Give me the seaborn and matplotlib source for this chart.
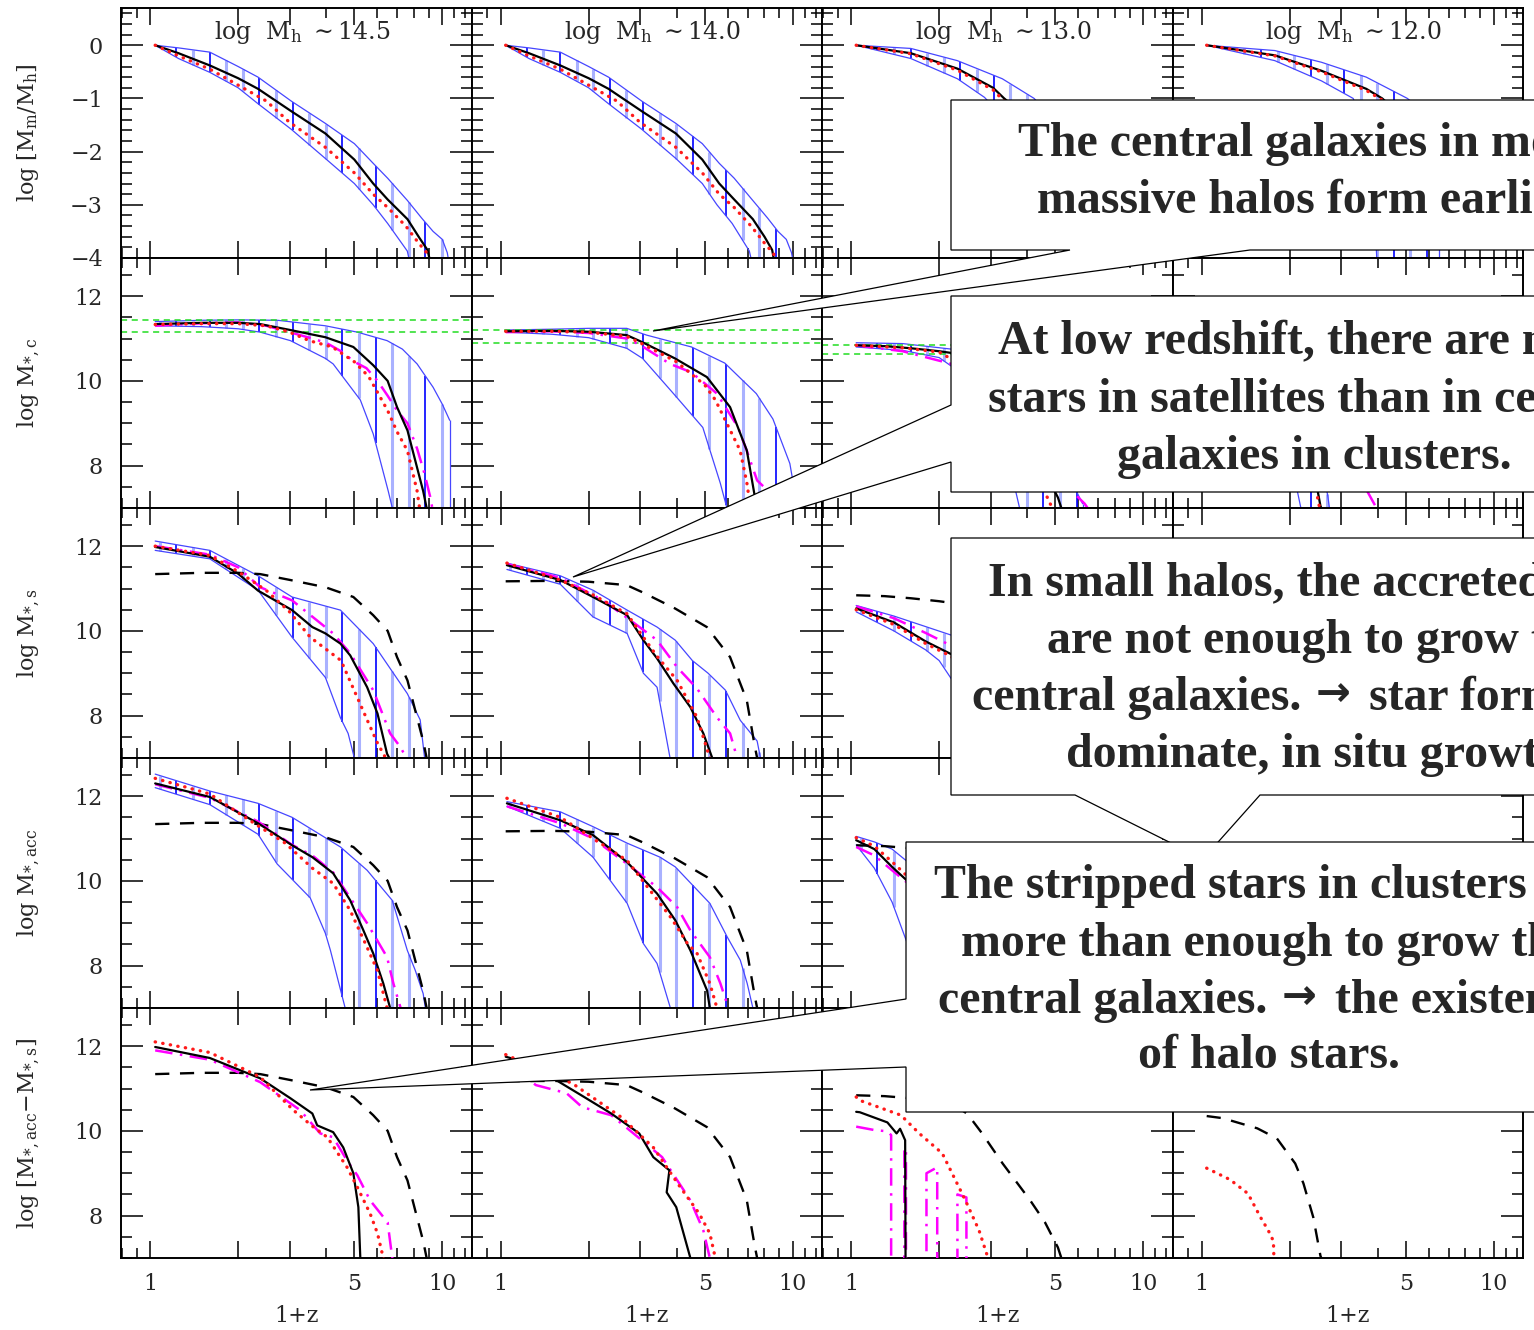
import matplotlib

matplotlib.use("Agg")
import matplotlib.pyplot as plt
import matplotlib.transforms as mtransforms
import numpy as np
import seaborn as sns
from matplotlib.patches import Polygon
from matplotlib.ticker import FixedFormatter, FixedLocator, MultipleLocator, NullFormatter

# * --- Panel labels ---
halo_masses = ["14.5", "14.0", "13.0", "12.0"]
row_ylabels = [
    r"log [M$_{\rm m}$/M$_{\rm h}$]",
    r"log M$_{*,\rm c}$",
    r"log M$_{*,\rm s}$",
    r"log M$_{*,\rm acc}$",
    r"log [M$_{*,\rm acc}$$-$M$_{*,\rm s}$]",
]

# x is always 1+z ; one (x, y) pair per halo-mass column

# * --- Row 0: log [Mm/Mh] ---
mm_median = [
    ([1.04, 1.25, 1.6, 2.0, 2.34, 3.04, 3.98, 5.0, 5.8, 6.5, 7.6, 8.3, 8.9, 9.3],
     [0, -0.15, -0.38, -0.62, -0.82, -1.24, -1.66, -2.15, -2.6, -2.9, -3.27, -3.6, -3.85, -4.3]),
    ([1.04, 1.25, 1.6, 2.0, 2.34, 3.04, 3.98, 4.9, 5.6, 6.3, 7.3, 8.0, 8.5, 8.8],
     [0, -0.15, -0.38, -0.62, -0.82, -1.24, -1.66, -2.15, -2.6, -2.9, -3.27, -3.6, -3.85, -4.3]),
    ([1.04, 1.6, 2.31, 3.06, 3.34, 4.5, 6.0, 7.5, 8.5],
     [0, -0.15, -0.44, -0.8, -1.0, -1.6, -2.5, -3.4, -4.3]),
    ([1.04, 1.78, 2.57, 3.66, 4.15, 5.0, 6.0, 6.5],
     [0, -0.19, -0.48, -0.82, -1.0, -1.4, -1.9, -2.2]),
]
mm_dotted = [
    ([1.04, 1.25, 1.6, 2.0, 2.5, 3.0, 3.98, 5.0, 5.8, 6.5, 7.5, 8.3, 8.9, 9.2],
     [0, -0.2, -0.45, -0.75, -1.05, -1.45, -1.92, -2.4, -2.8, -3.05, -3.4, -3.72, -3.92, -4.3]),
    ([1.04, 1.25, 1.6, 2.0, 2.5, 3.0, 3.98, 4.9, 5.6, 6.3, 7.2, 8.0, 8.6, 8.9],
     [0, -0.2, -0.45, -0.75, -1.05, -1.45, -1.92, -2.4, -2.8, -3.05, -3.4, -3.72, -3.92, -4.3]),
    ([1.04, 1.6, 2.31, 3.06, 3.34, 4.5, 6.0, 7.5, 8.5],
     [0, -0.16, -0.47, -0.84, -1.05, -1.7, -2.6, -3.5, -4.3]),
    ([1.04, 1.78, 2.57, 3.66, 4.15, 5.0, 6.0, 6.5],
     [0, -0.2, -0.5, -0.85, -1.03, -1.45, -1.95, -2.25]),
]
mm_upper = [
    ([1.04, 1.25, 1.6, 2.0, 2.34, 3.04, 3.98, 5.0, 5.8, 6.5, 7.6, 8.5, 9.3, 10.0, 10.4, 10.7],
     [0, -0.05, -0.13, -0.4, -0.6, -1.05, -1.47, -1.85, -2.22, -2.5, -2.92, -3.25, -3.5, -3.65, -3.9, -4.3]),
    ([1.04, 1.25, 1.6, 2.0, 2.34, 3.04, 3.98, 4.9, 5.6, 6.3, 7.3, 8.2, 8.9, 9.5, 9.9, 10.2],
     [0, -0.05, -0.13, -0.4, -0.6, -1.05, -1.47, -1.85, -2.22, -2.5, -2.92, -3.25, -3.5, -3.65, -3.9, -4.3]),
    ([1.04, 1.6, 2.31, 3.29, 4.23, 5.5, 7.0, 8.5, 9.5],
     [0, -0.06, -0.29, -0.63, -1.0, -1.7, -2.5, -3.4, -4.3]),
    ([1.04, 1.78, 2.57, 3.66, 5.06, 6.5],
     [0, -0.1, -0.32, -0.6, -1.0, -1.5]),
]
mm_lower = [
    ([1.04, 1.25, 1.6, 2.0, 2.34, 3.04, 3.98, 5.0, 5.8, 6.5, 7.59, 7.9],
     [0, -0.25, -0.51, -0.8, -1.1, -1.58, -2.13, -2.6, -3.0, -3.35, -3.87, -4.3]),
    ([1.04, 1.25, 1.6, 2.0, 2.34, 3.04, 3.98, 4.9, 5.5, 6.2, 7.1, 7.4],
     [0, -0.25, -0.51, -0.8, -1.1, -1.58, -2.13, -2.6, -3.0, -3.35, -3.87, -4.3]),
    ([1.04, 1.6, 2.31, 2.86, 3.5, 4.5, 5.5, 6.5],
     [0, -0.25, -0.63, -0.98, -1.5, -2.3, -3.2, -4.3]),
    ([1.04, 1.78, 2.57, 3.3, 3.8, 4.0],
     [0, -0.29, -0.67, -1.0, -1.8, -4.3]),
]

# * --- Row 1: log M*,c ---
mc_median = [
    ([1.04, 1.5, 2.0, 2.38, 3.02, 3.98, 4.96, 5.8, 6.5, 7.0, 7.6, 8.2, 8.6, 8.9],
     [11.34, 11.37, 11.37, 11.34, 11.2, 11.03, 10.8, 10.37, 10.0, 9.38, 8.83, 7.95, 7.4, 6.9]),
    ([1.04, 1.5, 2.0, 2.7, 3.06, 3.95, 5.08, 6.1, 6.96, 7.4, 7.6],
     [11.17, 11.18, 11.16, 11.08, 10.91, 10.53, 10.09, 9.38, 8.36, 7.3, 6.9]),
    ([1.04, 1.3, 1.6, 2.0, 2.2, 2.5, 2.8, 3.3, 4.1, 4.6, 5.1, 5.3],
     [10.84, 10.82, 10.77, 10.7, 10.66, 10.4, 9.95, 9.23, 8.36, 7.85, 7.25, 6.9]),
    ([1.04, 1.18, 1.55, 1.81, 2.09, 2.23, 2.41, 2.55, 2.6],
     [10.35, 10.3, 10.06, 9.82, 9.23, 8.76, 7.96, 7.05, 6.9]),
]
mc_dashdot = [
    ([1.04, 1.5, 2.0, 2.5, 3.0, 3.5, 4.0, 4.5, 5.0, 5.5, 6.0, 6.5, 7.0, 7.6, 8.2, 8.7, 9.1, 9.3],
     [11.3, 11.36, 11.38, 11.3, 11.15, 11.02, 10.9, 10.7, 10.45, 10.3, 10.0, 9.65, 9.3, 9.0, 8.4, 7.8, 7.25, 6.9]),
    ([1.04, 1.5, 2.0, 2.7, 3.0, 3.8, 4.5, 5.5, 6.5, 7.0, 7.55, 8.1, 8.4],
     [11.15, 11.17, 11.13, 11.0, 10.85, 10.4, 10.2, 9.7, 8.9, 8.3, 7.65, 7.45, 6.9]),
    ([1.04, 1.5, 2.18, 2.8, 3.5, 4.5, 5.5, 6.3, 6.6],
     [10.84, 10.7, 10.41, 9.8, 9.0, 8.2, 7.5, 7.1, 6.9]),
    ([1.04, 1.5, 2.0, 2.6, 3.3, 3.93, 4.0],
     [10.3, 10.0, 9.6, 9.0, 8.0, 7.05, 6.9]),
]
mc_dotted = [
    ([1.04, 1.5, 2.0, 2.5, 3.0, 3.5, 4.2, 5.0, 5.6, 6.5, 7.0, 7.6, 8.2, 8.4],
     [11.33, 11.35, 11.35, 11.3, 11.15, 10.95, 10.8, 10.45, 10.1, 9.3, 8.8, 8.35, 7.4, 6.9]),
    ([1.04, 1.5, 2.0, 2.7, 3.0, 4.0, 5.0, 5.43, 6.6, 6.96, 7.2],
     [11.17, 11.17, 11.15, 11.05, 10.9, 10.45, 9.9, 9.55, 8.36, 7.6, 6.9]),
    ([1.04, 1.5, 2.0, 2.5, 3.0, 4.0, 4.8, 5.0],
     [10.84, 10.78, 10.68, 10.3, 9.7, 8.3, 7.1, 6.9]),
    ([1.04, 1.5, 2.0, 2.3, 2.5, 2.55],
     [10.33, 10.05, 9.5, 8.6, 7.2, 6.9]),
]
mc_upper = [
    ([1.04, 1.5, 2.0, 2.73, 3.98, 5.12, 6.47, 7.3, 8.2, 9.3, 10.0, 10.6],
     [11.4, 11.43, 11.44, 11.43, 11.3, 11.15, 10.95, 10.75, 10.4, 9.85, 9.45, 9.07]),
    ([1.04, 1.5, 2.0, 2.7, 3.16, 4.5, 5.85, 7.5, 8.55, 9.77, 10.0],
     [11.2, 11.22, 11.24, 11.24, 11.08, 10.8, 10.42, 9.7, 9.1, 8.05, 7.65]),
    ([1.04, 1.5, 2.2, 3.0, 4.0, 5.0, 5.8, 6.2],
     [10.9, 10.88, 10.75, 10.3, 9.5, 8.5, 7.5, 7.1]),
    ([1.04, 1.5, 2.0, 2.4, 2.7, 2.75],
     [10.45, 10.25, 9.9, 9.0, 7.3, 6.9]),
]
mc_lower = [
    ([1.04, 1.5, 2.0, 2.38, 3.02, 3.98, 4.23, 5.24, 5.8, 6.53, 6.8],
     [11.3, 11.28, 11.23, 11.15, 10.95, 10.53, 10.4, 9.55, 8.75, 7.4, 6.9]),
    ([1.04, 1.5, 2.0, 2.7, 3.06, 3.95, 4.92, 5.65, 6.0],
     [11.15, 11.1, 11.02, 10.77, 10.53, 9.66, 8.9, 7.58, 6.9]),
    ([1.04, 1.5, 2.0, 2.6, 3.2, 3.6, 3.8],
     [10.8, 10.72, 10.55, 10.0, 8.8, 7.6, 6.9]),
    ([1.04, 1.5, 1.9, 2.17, 2.2],
     [10.25, 9.85, 9.0, 7.1, 6.9]),
]
mc_green = [(11.43, 11.15), (11.2, 10.89), (10.84, 10.63), (10.45, 10.2)]

# * --- Row 2: log M*,s ---
ms_median = [
    ([1.04, 1.6, 2.0, 2.34, 3.06, 3.59, 3.98, 4.48, 4.84, 5.53, 6.0, 6.47, 6.7],
     [11.98, 11.75, 11.35, 10.95, 10.49, 10.09, 9.94, 9.7, 9.42, 8.67, 8.05, 7.1, 6.9]),
    ([1.05, 1.6, 2.07, 2.71, 3.08, 3.43, 3.9, 4.46, 4.94, 5.3, 5.4],
     [11.55, 11.2, 10.8, 10.37, 9.78, 9.35, 8.76, 8.2, 7.58, 7.0, 6.9]),
    ([1.04, 1.4, 1.8, 2.2, 2.6, 3.0, 3.4, 3.6],
     [10.53, 10.2, 9.75, 9.45, 8.9, 8.2, 7.2, 6.9]),
    ([1.04, 1.5, 2.0, 2.4, 2.6],
     [10.2, 9.8, 9.0, 7.5, 6.9]),
]
ms_dashdot = [
    ([1.04, 1.6, 2.0, 2.38, 3.06, 4.23, 4.84, 5.8, 6.63, 7.2, 7.6],
     [12.0, 11.8, 11.5, 11.03, 10.72, 9.94, 9.47, 8.6, 7.58, 7.25, 6.95]),
    ([1.05, 1.6, 2.24, 2.78, 3.43, 4.02, 4.7, 5.5, 6.1, 6.45, 6.6],
     [11.58, 11.25, 10.72, 10.25, 9.78, 9.14, 8.64, 7.96, 7.58, 7.0, 6.9]),
    ([1.04, 1.4, 1.8, 2.2, 2.7, 3.2, 3.8, 4.0],
     [10.58, 10.3, 9.95, 9.65, 9.1, 8.4, 7.2, 6.9]),
    ([1.04, 1.5, 2.0, 2.4, 2.6],
     [10.25, 9.9, 9.2, 7.8, 6.9]),
]
ms_dotted = [
    ([1.04, 1.6, 2.0, 2.5, 3.0, 3.53, 4.5, 5.53, 6.0, 6.4, 6.6],
     [12.0, 11.78, 11.4, 10.95, 10.45, 9.85, 9.3, 7.9, 7.35, 7.0, 6.9]),
    ([1.05, 1.6, 2.07, 2.71, 3.08, 3.43, 4.02, 4.7, 5.2, 5.3],
     [11.6, 11.2, 10.85, 10.4, 9.85, 9.4, 8.83, 7.96, 7.0, 6.9]),
    ([1.04, 1.4, 1.8, 2.2, 2.6, 3.0, 3.4, 3.6],
     [10.5, 10.15, 9.7, 9.4, 8.85, 8.1, 7.1, 6.9]),
    ([1.04, 1.5, 2.0, 2.4, 2.6],
     [10.15, 9.75, 8.9, 7.4, 6.9]),
]
ms_upper = [
    ([1.04, 1.6, 2.34, 3.06, 4.48, 5.8, 7.59, 8.4, 8.7, 8.8],
     [12.12, 11.9, 11.3, 10.8, 10.49, 9.7, 8.52, 7.9, 7.0, 6.9]),
    ([1.05, 1.6, 2.07, 2.71, 3.43, 3.96, 4.53, 5.13, 5.88, 6.61, 7.55, 7.75, 7.8],
     [11.6, 11.3, 10.96, 10.49, 10.09, 9.78, 9.3, 9.0, 8.6, 7.89, 7.4, 7.0, 6.9]),
    ([1.04, 1.4, 1.8, 2.2, 2.8, 3.4, 4.0, 4.2],
     [10.6, 10.35, 10.1, 9.9, 9.3, 8.5, 7.3, 6.9]),
    ([1.04, 1.5, 2.0, 2.5, 2.8],
     [10.35, 10.0, 9.4, 8.0, 6.9]),
]
ms_lower = [
    ([1.04, 1.6, 2.34, 3.06, 3.98, 4.48, 4.76, 5.0, 5.1],
     [11.9, 11.7, 10.96, 9.85, 8.9, 7.95, 7.58, 7.0, 6.9]),
    ([1.05, 1.6, 2.07, 2.71, 3.08, 3.43, 3.8, 3.9],
     [11.45, 11.1, 10.33, 9.94, 9.0, 8.67, 7.0, 6.9]),
    ([1.04, 1.4, 1.8, 2.0, 2.5, 2.9, 3.0],
     [10.45, 10.0, 9.55, 9.3, 8.3, 7.1, 6.9]),
    ([1.04, 1.5, 1.9, 2.1],
     [10.05, 9.55, 8.2, 6.9]),
]

# * --- Row 3: log M*,acc ---
macc_median = [
    ([1.04, 1.6, 2.34, 3.06, 3.59, 4.23, 4.84, 5.37, 5.8, 6.28, 6.63, 6.8],
     [12.3, 11.98, 11.36, 10.84, 10.56, 10.18, 9.54, 8.83, 8.29, 7.58, 7.0, 6.9]),
    ([1.05, 1.6, 2.07, 2.71, 3.43, 3.96, 4.46, 5.09, 5.2, 5.25],
     [11.83, 11.43, 11.08, 10.44, 9.7, 9.07, 8.36, 7.41, 7.0, 6.9]),
    ([1.04, 1.2, 1.38, 1.8, 2.3, 2.8, 3.1],
     [10.96, 10.75, 10.33, 9.6, 8.6, 7.3, 6.9]),
    ([1.04, 1.5, 2.0, 2.4, 2.6],
     [10.3, 9.9, 9.1, 7.6, 6.9]),
]
macc_dashdot = [
    ([1.04, 1.6, 2.34, 3.06, 3.59, 4.23, 4.84, 5.53, 6.47, 6.8, 7.2, 7.3],
     [12.28, 11.96, 11.4, 10.85, 10.6, 10.2, 9.6, 9.0, 8.2, 7.58, 7.0, 6.9]),
    ([1.05, 1.6, 2.07, 2.71, 3.43, 4.02, 4.46, 5.2, 5.65, 6.02, 6.1],
     [11.76, 11.36, 11.0, 10.4, 9.85, 9.38, 8.83, 8.2, 7.58, 7.0, 6.9]),
    ([1.04, 1.2, 1.38, 1.8, 2.3, 2.9, 3.3],
     [10.8, 10.6, 10.25, 9.6, 8.8, 7.5, 6.9]),
    ([1.04, 1.5, 2.0, 2.5, 2.7],
     [10.25, 9.9, 9.2, 7.8, 6.9]),
]
macc_dotted = [
    ([1.04, 1.6, 2.34, 2.9, 3.59, 4.23, 4.84, 5.53, 6.0, 6.47, 6.6],
     [12.42, 12.05, 11.3, 10.89, 10.3, 9.94, 9.3, 8.43, 7.88, 7.0, 6.9]),
    ([1.05, 1.6, 2.71, 3.82, 4.36, 4.7, 5.2, 5.5, 5.6],
     [11.95, 11.5, 10.48, 9.14, 8.52, 8.29, 7.58, 7.0, 6.9]),
    ([1.04, 1.2, 1.38, 1.8, 2.3, 2.8, 3.0],
     [11.02, 10.82, 10.45, 9.7, 8.6, 7.3, 6.9]),
    ([1.04, 1.5, 2.0, 2.4, 2.6],
     [10.35, 9.95, 9.1, 7.5, 6.9]),
]
macc_upper = [
    ([1.04, 1.6, 2.34, 3.06, 4.48, 5.53, 6.74, 7.59, 8.08, 8.6, 8.75, 8.8],
     [12.52, 12.12, 11.83, 11.5, 10.8, 10.25, 9.54, 8.36, 7.89, 7.34, 7.0, 6.9]),
    ([1.05, 1.6, 2.07, 2.71, 3.51, 3.96, 5.2, 5.97, 6.61, 6.98, 7.3, 7.35],
     [11.87, 11.63, 11.28, 10.89, 10.56, 10.33, 9.47, 8.67, 8.13, 7.58, 7.0, 6.9]),
    ([1.04, 1.2, 1.38, 1.8, 2.4, 3.0, 3.4],
     [11.05, 10.92, 10.75, 10.1, 9.2, 7.8, 6.9]),
    ([1.04, 1.5, 2.0, 2.5, 2.8],
     [10.45, 10.05, 9.4, 8.0, 6.9]),
]
macc_lower = [
    ([1.04, 1.6, 2.34, 2.72, 3.53, 3.98, 4.14, 4.65, 4.75],
     [12.2, 11.8, 11.1, 10.4, 9.6, 8.76, 8.36, 7.0, 6.9]),
    ([1.05, 1.6, 2.07, 2.71, 3.08, 3.43, 3.81, 3.9],
     [11.76, 11.24, 10.56, 9.47, 8.52, 8.05, 7.0, 6.9]),
    ([1.04, 1.2, 1.38, 1.6, 1.8],
     [10.85, 10.3, 9.5, 8.3, 6.9]),
    ([1.04, 1.5, 1.9, 2.1],
     [10.15, 9.6, 8.2, 6.9]),
]

# * --- Row 4: log [M*,acc - M*,s] (no scatter band) ---
mdiff_median = [
    ([1.04, 1.6, 2.38, 3.02, 3.59, 3.73, 4.23, 4.58, 4.96, 5.16, 5.24, 5.26],
     [11.98, 11.72, 11.24, 10.77, 10.41, 10.13, 9.97, 9.61, 9.0, 8.2, 7.0, 6.9]),
    ([1.04, 1.25, 1.59, 1.93, 2.39, 2.98, 3.33, 3.78, 3.7, 3.99, 4.46, 4.5],
     [11.75, 11.6, 11.15, 10.8, 10.41, 9.94, 9.38, 9.07, 8.55, 8.2, 7.0, 6.9]),
    ([1.04, 1.07, 1.33, 1.43, 1.47, 1.53, 1.535],
     [10.45, 10.44, 10.2, 9.94, 10.05, 9.78, 6.8]),
    ([], []),
]
mdiff_dashdot = [
    ([1.04, 1.6, 2.38, 3.26, 3.82, 4.23, 4.72, 5.12, 5.66, 6.5, 6.74, 6.8],
     [11.9, 11.68, 11.15, 10.49, 9.94, 9.85, 9.3, 8.95, 8.36, 7.84, 7.0, 6.9]),
    ([1.04, 1.32, 1.68, 1.9, 2.39, 2.78, 3.57, 4.46, 4.94, 5.2, 5.25],
     [11.6, 11.08, 10.89, 10.56, 10.37, 10.0, 9.38, 8.36, 7.65, 7.0, 6.9]),
    ([1.04, 1.2, 1.33, 1.37, 1.37, 1.52, 1.52, 1.54, 1.54, 1.81, 1.81, 1.97, 1.97, 2.31, 2.31, 2.48, 2.48],
     [10.1, 10.02, 9.99, 9.9, 6.8, 6.8, 9.6, 9.55, 6.8, 6.8, 9.0, 9.14, 6.8, 6.8, 8.5, 8.43, 6.8]),
    ([], []),
]
mdiff_dotted = [
    ([1.04, 1.6, 2.38, 3.09, 3.62, 4.04, 4.72, 5.12, 5.66, 6.0, 6.28, 6.35],
     [12.1, 11.85, 11.27, 10.49, 10.09, 9.85, 9.14, 8.67, 8.05, 7.58, 7.0, 6.9]),
    ([1.04, 1.3, 1.76, 2.59, 3.33, 4.12, 4.78, 5.2, 5.43, 5.5],
     [11.8, 11.5, 11.12, 10.32, 9.61, 8.67, 8.05, 7.58, 7.0, 6.9]),
    ([1.04, 1.07, 1.48, 1.71, 2.05, 2.46, 2.74, 2.94, 3.0],
     [10.8, 10.72, 10.37, 9.94, 9.47, 8.36, 7.65, 7.0, 6.9]),
    ([1.04, 1.25, 1.44, 1.59, 1.69, 1.76, 1.77],
     [9.12, 8.85, 8.52, 7.96, 7.65, 7.4, 6.8]),
]

# * --- Callout texts ---
callout_lines = [
    ["The central galaxies in more", "massive halos form earlier."],
    ["At low redshift, there are more", "stars in satellites than in central", "galaxies in clusters."],
    ["In small halos, the accreted stars", "are not enough to grow the",
     "central galaxies. \u2192 star formation", "dominate, in situ growth."],
    ["The stripped stars in clusters are", "more than enough to grow the",
     "central galaxies. \u2192 the existence", "of halo stars."],
]

# ---------------------------------------------------------------------------
sns.set_style("ticks")
plt.rcParams["font.family"] = ["DejaVu Serif"]
plt.rcParams["mathtext.fontset"] = "dejavuserif"

BAND = "#4646ff"
HATCH_DARK = "#0000ff"
HATCH_LIGHT = "#a9b1ff"
HATCH_LOG = 0.0325 + 0.05685 * np.arange(24)

rows = [
    dict(median=mm_median, dotted=mm_dotted, upper=mm_upper, lower=mm_lower),
    dict(median=mc_median, dashdot=mc_dashdot, dotted=mc_dotted, upper=mc_upper, lower=mc_lower),
    dict(median=ms_median, dashdot=ms_dashdot, dotted=ms_dotted, upper=ms_upper, lower=ms_lower),
    dict(median=macc_median, dashdot=macc_dashdot, dotted=macc_dotted, upper=macc_upper, lower=macc_lower),
    dict(median=mdiff_median, dashdot=mdiff_dashdot, dotted=mdiff_dotted),
]
ylims = [(-4, 0.7), (7, 12.9), (7, 12.9), (7, 12.9), (7, 12.9)]


def draw_curve(ax, curve, **kw):
    xs, ys = curve
    if len(xs) == 0:
        return
    sns.lineplot(x=xs, y=ys, ax=ax, sort=False, estimator=None, legend=False, **kw)


def draw_band(ax, upper, lower, ybot):
    xu, yu = np.asarray(upper[0]), np.asarray(upper[1])
    xl, yl = np.asarray(lower[0]), np.asarray(lower[1])
    draw_curve(ax, upper, color=BAND, lw=0.9, zorder=2)
    draw_curve(ax, lower, color=BAND, lw=0.9, zorder=2)
    dark, light = [], []
    for k, lx in enumerate(HATCH_LOG):
        x = 10 ** lx
        if x < xu[0] or x > xu[-1]:
            continue
        top = np.interp(lx, np.log10(xu), yu)
        bot = np.interp(lx, np.log10(xl), yl) if x <= xl[-1] else ybot
        bot = max(bot, ybot)
        if top <= bot:
            continue
        (dark if k % 5 in (1, 3) else light).append((x, bot, top))
    for segs, col, lw in ((light, HATCH_LIGHT, 2.2), (dark, HATCH_DARK, 1.2)):
        if segs:
            s = np.array(segs)
            ax.vlines(s[:, 0], s[:, 1], s[:, 2], colors=col, lw=lw, zorder=1)
    # closing line where the band stops above the bottom of the panel
    if yu[-1] > ybot:
        ax.vlines([xu[-1]], [ybot], [yu[-1]], colors=BAND, lw=0.9, zorder=2)


fig, axes = plt.subplots(
    5, 4, figsize=(15.34, 13.3), dpi=100, sharex=True,
    gridspec_kw=dict(hspace=0, wspace=0, left=121 / 1534, right=1523 / 1534,
                     bottom=1 - 1258 / 1330, top=1 - 8 / 1330),
)

for r, row in enumerate(rows):
    ybot = ylims[r][0]
    for c in range(4):
        ax = axes[r, c]
        if "upper" in row:
            draw_band(ax, row["upper"][c], row["lower"][c], ybot)
        if r == 1:
            for gy in mc_green[c]:
                ax.axhline(gy, color="#22dd22", lw=1.1, linestyle=(0, (4, 3)), zorder=2)
        if r >= 2:
            draw_curve(ax, mc_median[c], color="black", lw=1.7, linestyle=(0, (6, 4.5)), zorder=3)
        if "dashdot" in row:
            draw_curve(ax, row["dashdot"][c], color="#ff00ff", lw=1.8,
                       linestyle=(0, (7, 3, 1, 3)), zorder=4)
        draw_curve(ax, row["median"][c], color="black", lw=1.6, zorder=5)
        draw_curve(ax, row["dotted"][c], color="#ff1a1a", lw=2.4, linestyle=(0, (0.1, 2.2)),
                   dash_capstyle="round", zorder=6)

        ax.set_xscale("log")
        ax.set_ylim(*ylims[r])
        ax.set_xlabel("")
        ax.set_ylabel("")
        for sp in ax.spines.values():
            sp.set_linewidth(1.4)
            sp.set_color("black")
        if r == 0:
            ax.yaxis.set_major_locator(MultipleLocator(1))
            ax.yaxis.set_minor_locator(MultipleLocator(0.2))
            ax.text(0.517, 0.904, r"log  M$_{\rm h}$ $\sim$" + halo_masses[c],
                    transform=ax.transAxes, ha="center", va="center", fontsize=17)
        else:
            ax.yaxis.set_major_locator(FixedLocator([8, 10, 12]))
            ax.yaxis.set_minor_locator(MultipleLocator(0.5))
        ax.tick_params(axis="both", which="both", direction="in", top=True, right=True,
                       width=1.1, color="black", labelsize=16, labelleft=(c == 0))
        ax.tick_params(axis="x", which="major", length=12, pad=11)
        ax.tick_params(axis="x", which="minor", length=7)
        ax.tick_params(axis="y", which="major", length=16, pad=13)
        ax.tick_params(axis="y", which="minor", length=8)
        if c == 0:
            ax.set_ylabel(row_ylabels[r], fontsize=16, va="center")
            ax.yaxis.set_label_coords(-0.265, 0.5)
        if r == 4:
            ax.set_xlabel("1+z", fontsize=16, va="center")
            ax.xaxis.set_label_coords(0.5, -0.232)

for ax in axes.flat:
    ax.set_xlim(10 ** -0.1, 10 ** 1.1)
    ax.xaxis.set_major_locator(FixedLocator([1, 2, 3, 5, 10]))
    ax.xaxis.set_major_formatter(FixedFormatter(["1", "", "", "5", "10"]))
    ax.xaxis.set_minor_locator(FixedLocator([0.8, 0.9, 4, 6, 7, 8, 9, 11, 12]))
    ax.xaxis.set_minor_formatter(NullFormatter())

# * --- Callout boxes (drawn in pixel space of the 1534x1330 canvas) ---
px = mtransforms.Affine2D().scale(1 / 1534, -1 / 1330).translate(0, 1) + fig.transFigure
callout_shapes = [
    [(951, 100), (1600, 100), (1600, 250), (1250, 250), (653, 331), (1070, 250), (951, 250)],
    [(951, 296), (1600, 296), (1600, 492), (951, 492), (951, 462), (573, 577), (951, 405)],
    [(951, 538), (1600, 538), (1600, 795), (1260, 795), (1203, 859), (1075, 795), (951, 795)],
    [(906, 842), (1600, 842), (1600, 1112), (906, 1112), (906, 1067), (310, 1090), (906, 999)],
]
callout_anchor = [
    [(1018, 156), (1037, 213)],
    [(998, 354), (988, 412), (1117, 469)],
    [(988, 595), (1047, 653), (972, 710), (1066, 767)],
    [(934, 898), (961, 956), (938, 1013), (1138, 1068)],
]
TEXT_KW = dict(transform=px, ha="left", va="baseline", fontsize=34.5, fontweight="bold",
               family=["Liberation Serif", "DejaVu Serif"])
renderer = fig.canvas.get_renderer()
for i, (shape, lines, anchors) in enumerate(zip(callout_shapes, callout_lines, callout_anchor)):
    poly = Polygon(shape, closed=True, transform=px, facecolor="white", edgecolor="black",
                   lw=0.9, zorder=10 + 2 * i)
    fig.add_artist(poly)
    for (tx, ty), line in zip(anchors, lines):
        if "\u2192" not in line:
            fig.text(tx, ty, line, zorder=11 + 2 * i, **TEXT_KW)
            continue
        # the slide uses a large heavy arrow glyph between the two halves
        left, right = [s.strip() for s in line.split("\u2192")]
        t = fig.text(tx, ty, left, zorder=11 + 2 * i, **TEXT_KW)
        x_end = t.get_window_extent(renderer).x1
        fig.text(x_end + 14, ty - 4, "\u2192", transform=px, ha="left", va="baseline",
                 fontsize=30, fontweight="bold", family=["DejaVu Sans"], zorder=11 + 2 * i)
        fig.text(x_end + 68, ty, right, zorder=11 + 2 * i, **TEXT_KW)

fig.savefig("out.png", dpi=100)
